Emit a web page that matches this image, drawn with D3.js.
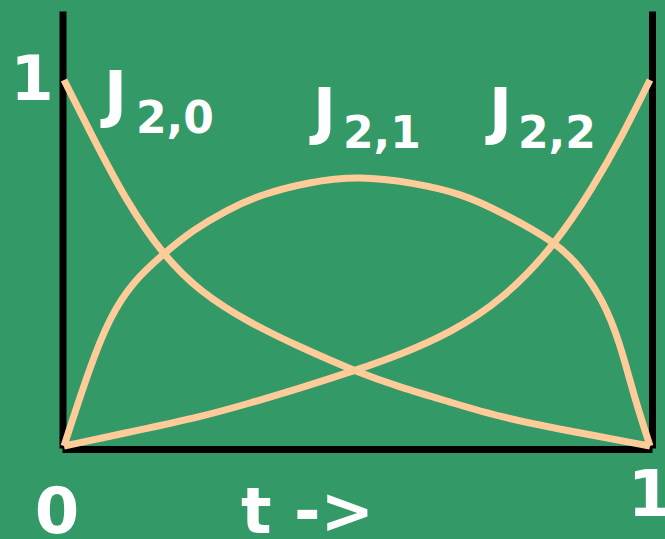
<!DOCTYPE html>
<html>
<head>
<meta charset="utf-8">
<script src="https://cdn.jsdelivr.net/npm/d3@7"></script>
<style>
  html, body { margin: 0; padding: 0; background: #339966; }
  svg { display: block; }
  .frame .domain { stroke: #000; stroke-width: 7; stroke-linecap: butt; }
  .curve { fill: none; stroke: #ffcc99; stroke-width: 7; stroke-linejoin: round; }
  text { font-family: "DejaVu Sans", Verdana, sans-serif; font-weight: bold; fill: #fff; }
</style>
</head>
<body>
<div id="chart"></div>
<script>
// t values and curve values
const j20 = [[0, 1.0], [0.049, 0.844], [0.108, 0.664], [0.169, 0.522], [0.232, 0.421], [0.317, 0.336],
  [0.403, 0.27], [0.5, 0.202], [0.573, 0.161], [0.659, 0.12], [0.744, 0.079], [0.852, 0.044], [1, 0]]
const j21 = [[0, 0], [0.044, 0.216], [0.078, 0.352], [0.118, 0.45], [0.169, 0.524], [0.22, 0.59],
  [0.278, 0.645], [0.334, 0.686], [0.415, 0.721], [0.505, 0.738], [0.596, 0.719], [0.676, 0.691],
  [0.749, 0.637], [0.841, 0.555], [0.881, 0.489], [0.92, 0.399], [0.949, 0.281], [0.971, 0.145], [1, 0]]
const j22 = [[0, 0], [0.13, 0.044], [0.232, 0.079], [0.317, 0.117], [0.403, 0.158], [0.5, 0.208],
  [0.573, 0.249], [0.659, 0.309], [0.749, 0.399], [0.841, 0.555], [0.903, 0.708], [0.949, 0.836], [1, 1.0]]

const seriesNames = ['J', 'J', 'J']
const seriesSubs = ['2,0', '2,1', '2,2']
const xTickLabels = ['0', '1']
const yTickLabels = ['1']
const xTitle = 't ->'

const width = 665, height = 539

const svg = d3.select('#chart').append('svg')
  .attr('width', width)
  .attr('height', height)

const x = d3.scaleLinear().domain([0, 1]).range([64, 650])
const y = d3.scaleLinear().domain([0, 1]).range([446, 80])

// frame: the axis lines reach higher than the curves
const yFrame = d3.scaleLinear().domain([0, 1]).range([448, 11])
const xFrame = d3.scaleLinear().domain([0, 1]).range([62, 652])

svg.append('g')
  .attr('class', 'frame')
  .attr('transform', 'translate(62.5,0)')
  .call(d3.axisLeft(yFrame).tickValues([]).tickSizeOuter(0))

svg.append('g')
  .attr('class', 'frame')
  .attr('transform', 'translate(652,0)')
  .call(d3.axisRight(yFrame).tickValues([]).tickSizeOuter(0))

svg.append('g')
  .attr('class', 'frame')
  .attr('transform', 'translate(0,449)')
  .call(d3.axisBottom(xFrame).tickValues([]).tickSizeOuter(0))

// basis curve smooths out small reading errors
const line = d3.line()
  .x(d => x(d[0]))
  .y(d => y(d[1]))
  .curve(d3.curveBasis)

svg.selectAll('.curve')
  .data([j20, j21, j22])
  .join('path')
  .attr('class', 'curve')
  .attr('d', line)

// curve labels
const labelPos = [
  { x: 104, y: 115, sx: 136, sy: 133 },
  { x: 313, y: 132, sx: 343, sy: 148 },
  { x: 489, y: 132, sx: 518, sy: 148 }
]
seriesNames.forEach((name, i) => {
  const p = labelPos[i]
  svg.append('text')
    .attr('x', p.x)
    .attr('y', p.y)
    .style('font-size', '62px')
    .text(name)
  svg.append('text')
    .attr('x', p.sx)
    .attr('y', p.sy)
    .style('font-size', '44px')
    .text(seriesSubs[i])
})

// tick labels
svg.append('text')
  .attr('x', 32)
  .attr('y', 100)
  .attr('text-anchor', 'middle')
  .style('font-size', '62px')
  .text(yTickLabels[0])

svg.append('text')
  .attr('x', 57)
  .attr('y', 533)
  .attr('text-anchor', 'middle')
  .style('font-size', '64px')
  .text(xTickLabels[0])

svg.append('text')
  .attr('x', 650)
  .attr('y', 516)
  .attr('text-anchor', 'middle')
  .style('font-size', '64px')
  .text(xTickLabels[1])

svg.append('text')
  .attr('x', 241)
  .attr('y', 533)
  .style('font-size', '64px')
  .text(xTitle)
</script>
</body>
</html>
